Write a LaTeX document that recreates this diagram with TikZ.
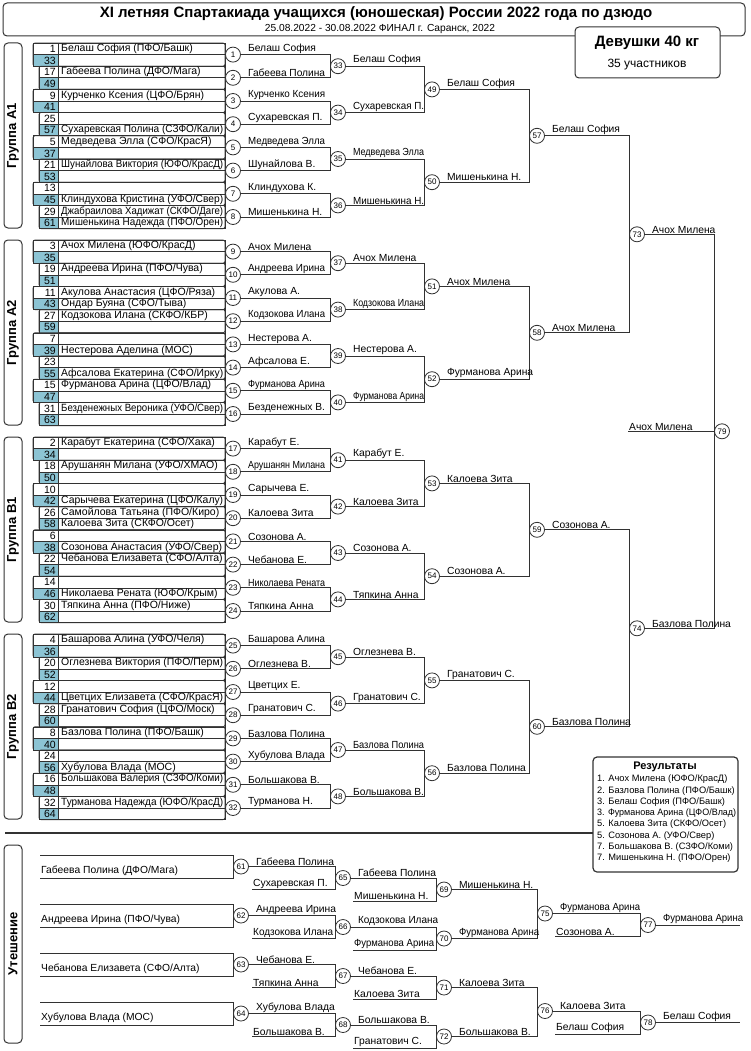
\documentclass[tikz,border=0pt]{standalone}
\usepackage{fontspec}
\setmainfont{Liberation Sans}
\usetikzlibrary{positioning}
\definecolor{seedblue}{RGB}{140,196,212}
\definecolor{ink}{RGB}{50,50,50}
% squeeze a text into a given width
\newsavebox\fitbox
\newcommand\fitw[2]{\sbox\fitbox{#2}\ifdim\wd\fitbox>#1pt\resizebox{#1pt}{\ht\fitbox}{#2}\else\usebox\fitbox\fi}
\tikzset{
  wire/.style={draw=ink,line width=0.8pt},
  bout/.style={draw=ink,circle,line width=0.8pt,fill=white,minimum size=15pt,inner sep=0pt,font=\fontsize{8}{8}\selectfont},
  num/.style={inner sep=0pt,font=\fontsize{10.5}{10}\selectfont},
  nm/.style={inner sep=0pt,font=\fontsize{10.5}{10}\selectfont},
  win/.style={anchor=south west,inner sep=1pt,font=\fontsize{10.3}{10}\selectfont},
  panel/.style={draw=ink,line width=1pt,rounded corners=4pt},
  grp/.style={font=\bfseries\fontsize{13}{13}\selectfont,rotate=90}
}
% one group of sixteen seed rows
\newcommand\drawgroup[2]{%
  \foreach \n/\s [count=\i from 0] in {#2}{
    \pgfmathsetmacro\yy{43+197*#1+\i*11.6}
    \pgfmathtruncatemacro\pp{mod(int(\i/2),2)}
    \pgfmathsetmacro\xl{\pp==0 ? 33 : 39}
    \pgfmathtruncatemacro\bl{mod(\i,2)}
    \ifnum\bl=1 \fill[seedblue] (\xl,\yy) rectangle (58,\yy+11.6); \fi
    \draw[wire,line width=0.6pt] (\xl,\yy) rectangle (58,\yy+11.6);
    \draw[wire,line width=0.6pt] (58,\yy) rectangle (225,\yy+11.6);
    \ifnum\bl=0 \draw[wire,rounded corners=2pt] (\xl,\yy) rectangle (225,\yy+23.2); \fi
    \node[num,anchor=east] (s#1-\i) at (56,\yy+6) {\n};
    \node[nm,anchor=west] (e#1-\i) at (61,\yy+6) {\fitw{162}{\s}};
  }}
\begin{document}
\begin{tikzpicture}[x=1pt,y=-1pt]
  \useasboundingbox (0,0) rectangle (750,1051);
  % Header
  \draw[panel] (3,3) rectangle (745,36);
  \node[font=\bfseries\fontsize{15}{15}\selectfont] (title) at (376,14) {XI летняя Спартакиада учащихся (юношеская) России 2022 года по дзюдо};
  \node[font=\fontsize{10.2}{10}\selectfont] (sub) at (380,29) {25.08.2022 - 30.08.2022 ФИНАЛ г. Саранск, 2022};
  \draw[panel,fill=white] (575,27) rectangle (720,78);
  \node[font=\bfseries\fontsize{15}{15}\selectfont] (cat) at (647,43) {Девушки 40 кг};
  \node[font=\fontsize{12}{12}\selectfont] (cnt) at (647,65) {35 участников};

  % Groups
  \foreach \g/\gn in {0/A1,1/A2,2/B1,3/B2}{
    \draw[panel] (4,43+197*\g) rectangle (22,228+197*\g);
    \node[grp] (g\gn) at (13,135.5+197*\g) {Группа \gn};
  }
  \drawgroup{0}{1/{Белаш София (ПФО/Башк)},33/{},17/{Габеева Полина (ДФО/Мага)},49/{},9/{Курченко Ксения (ЦФО/Брян)},41/{},25/{},57/{Сухаревская Полина (СЗФО/Кали)},5/{Медведева Элла (СФО/КрасЯ)},37/{},21/{Шунайлова Виктория (ЮФО/КрасД)},53/{},13/{},45/{Клиндухова Кристина (УФО/Свер)},29/{Джабраилова Хадижат (СКФО/Даге)},61/{Мишенькина Надежда (ПФО/Орен)}}
  \drawgroup{1}{3/{Ачох Милена (ЮФО/КрасД)},35/{},19/{Андреева Ирина (ПФО/Чува)},51/{},11/{Акулова Анастасия (ЦФО/Ряза)},43/{Ондар Буяна (СФО/Тыва)},27/{Кодзокова Илана (СКФО/КБР)},59/{},7/{},39/{Нестерова Аделина (МОС)},23/{},55/{Афсалова Екатерина (СФО/Ирку)},15/{Фурманова Арина (ЦФО/Влад)},47/{},31/{Безденежных Вероника (УФО/Свер)},63/{}}
  \drawgroup{2}{2/{Карабут Екатерина (СФО/Хака)},34/{},18/{Арушанян Милана (УФО/ХМАО)},50/{},10/{},42/{Сарычева Екатерина (ЦФО/Калу)},26/{Самойлова Татьяна (ПФО/Киро)},58/{Калоева Зита (СКФО/Осет)},6/{},38/{Созонова Анастасия (УФО/Свер)},22/{Чебанова Елизавета (СФО/Алта)},54/{},14/{},46/{Николаева Рената (ЮФО/Крым)},30/{Тяпкина Анна (ПФО/Ниже)},62/{}}
  \drawgroup{3}{4/{Башарова Алина (УФО/Челя)},36/{},20/{Оглезнева Виктория (ПФО/Перм)},52/{},12/{},44/{Цветцих Елизавета (СФО/КрасЯ)},28/{Гранатович София (ЦФО/Моск)},60/{},8/{Базлова Полина (ПФО/Башк)},40/{},24/{},56/{Хубулова Влада (МОС)},16/{Большакова Валерия (СЗФО/Коми)},48/{},32/{Турманова Надежда (ЮФО/КрасД)},64/{}}

  % Bouts
  \foreach \k in {1,...,32}{
    \pgfmathtruncatemacro\g{(\k-1)/8}
    \pgfmathsetmacro\yy{43+197*\g+(2*mod(\k-1,8)+1)*11.6}
    \node[bout] (m\k) at (233,\yy) {\k};
  }
  \foreach \k in {33,...,48}{
    \pgfmathtruncatemacro\g{(\k-33)/4}
    \pgfmathsetmacro\yy{43+197*\g+(4*mod(\k-33,4)+2)*11.6}
    \node[bout] (m\k) at (338,\yy) {\k};
  }
  \foreach \k in {49,...,56}{
    \pgfmathtruncatemacro\g{(\k-49)/2}
    \pgfmathsetmacro\yy{43+197*\g+(8*mod(\k-49,2)+4)*11.6}
    \node[bout] (m\k) at (432,\yy) {\k};
  }
  \foreach \k in {57,...,60}{
    \node[bout] (m\k) at (537,{43+197*(\k-57)+8*11.6}) {\k};
  }
  \node[bout] (m73) at (637,{43+8*11.6+98.5}) {73};
  \node[bout] (m74) at (637,{43+8*11.6+492.5}) {74};
  \node[bout] (m79) at (722,{43+8*11.6+295.5}) {79};

  % Brackets
  \foreach \k in {33,...,48}{
    \pgfmathtruncatemacro\a{2*(\k-33)+1}\pgfmathtruncatemacro\b{\a+1}
    \draw[wire] (m\a.east) -| (m\k.west) |- (m\b.east);
  }
  \foreach \k in {49,...,56}{
    \pgfmathtruncatemacro\a{2*(\k-49)+33}\pgfmathtruncatemacro\b{\a+1}
    \draw[wire] (m\a.east) -| (m\k.west) |- (m\b.east);
  }
  \foreach \k in {57,...,60}{
    \pgfmathtruncatemacro\a{2*(\k-57)+49}\pgfmathtruncatemacro\b{\a+1}
    \draw[wire] (m\a.east) -| (m\k.west) |- (m\b.east);
  }
  \draw[wire] (m57.east) -| (m73.west) |- (m58.east);
  \draw[wire] (m59.east) -| (m74.west) |- (m60.east);
  \draw[wire] (m73.east) -| (m79.west) |- (m74.east);
  \coordinate (fin) at (628,{43+8*11.6+295.5});
  \draw[wire] (fin) -- (m79.west);
  \node[win] (wfin) at (fin) {Ачох Милена};

  % Winners
  \foreach \k/\w in {1/Белаш София,2/Габеева Полина,3/Курченко Ксения,4/Сухаревская П.,5/Медведева Элла,6/Шунайлова В.,7/Клиндухова К.,8/Мишенькина Н.,
    9/Ачох Милена,10/Андреева Ирина,11/Акулова А.,12/Кодзокова Илана,13/Нестерова А.,14/Афсалова Е.,15/Фурманова Арина,16/Безденежных В.,
    17/Карабут Е.,18/Арушанян Милана,19/Сарычева Е.,20/Калоева Зита,21/Созонова А.,22/Чебанова Е.,23/Николаева Рената,24/Тяпкина Анна,
    25/Башарова Алина,26/Оглезнева В.,27/Цветцих Е.,28/Гранатович С.,29/Базлова Полина,30/Хубулова Влада,31/Большакова В.,32/Турманова Н.}{
    \node[win] (w\k) at ([xshift=6pt]m\k.east) {\fitw{77}{\w}};
  }
  \foreach \k/\w in {33/Белаш София,34/Сухаревская П.,35/Медведева Элла,36/Мишенькина Н.,37/Ачох Милена,38/Кодзокова Илана,39/Нестерова А.,40/Фурманова Арина,
    41/Карабут Е.,42/Калоева Зита,43/Созонова А.,44/Тяпкина Анна,45/Оглезнева В.,46/Гранатович С.,47/Базлова Полина,48/Большакова В.}{
    \node[win] (w\k) at ([xshift=6pt]m\k.east) {\fitw{71}{\w}};
  }
  \foreach \k/\w in {49/Белаш София,50/Мишенькина Н.,51/Ачох Милена,52/Фурманова Арина,53/Калоева Зита,54/Созонова А.,55/Гранатович С.,56/Базлова Полина,
    57/Белаш София,58/Ачох Милена,59/Созонова А.,60/Базлова Полина,73/Ачох Милена,74/Базлова Полина}{
    \node[win] (w\k) at ([xshift=6pt]m\k.east) {\fitw{86}{\w}};
  }

  % Separator and results
  \draw[wire,line width=1.2pt] (5,833) -- (593,833);
  \draw[panel,line width=1.2pt] (593,757) rectangle (738,872);
  \node[font=\bfseries\fontsize{11}{11}\selectfont] (res) at (665,767) {Результаты};
  \foreach \t [count=\i] in {1. Ачох Милена (ЮФО/КрасД),2. Базлова Полина (ПФО/Башк),3. Белаш София (ПФО/Башк),3. Фурманова Арина (ЦФО/Влад),5. Калоева Зита (СКФО/Осет),5. Созонова А. (УФО/Свер),7. Большакова В. (СЗФО/Коми),7. Мишенькина Н. (ПФО/Орен)}{
    \node[anchor=west,inner sep=0pt,font=\fontsize{9.3}{9}\selectfont] (r\i) at (597,{768+11.3*\i}) {\fitw{139}{\t}};
  }

  % Repechage
  \draw[panel] (4,845) rectangle (22,1043);
  \node[grp] (gcons) at (13,944) {Утешение};
  \foreach \j/\k/\w in {0/61/{Габеева Полина (ДФО/Мага)},1/62/{Андреева Ирина (ПФО/Чува)},2/63/{Чебанова Елизавета (СФО/Алта)},3/64/{Хубулова Влада (МОС)}}{
    \coordinate (t\k) at (40,{855+49*\j});
    \coordinate (b\k) at (40,{878+49*\j});
    \node[bout] (m\k) at (241,{866.5+49*\j}) {\k};
    \draw[wire] (t\k) -| (m\k.west) |- (b\k);
    \node[win] (n\k) at ([yshift=1pt]b\k) {\w};
  }
  \foreach \j/\k/\a in {0/65/61,1/66/62,2/67/63,3/68/64}{
    \node[bout] (m\k) at (343,{878+49*\j}) {\k};
    \coordinate (l\k) at (252,{889.5+49*\j});
    \draw[wire] (m\a.east) -| (m\k.west) |- (l\k);
  }
  \foreach \j/\k/\a in {0/69/65,1/70/66,2/71/67,3/72/68}{
    \node[bout] (m\k) at (444,{889.5+49*\j}) {\k};
    \coordinate (l\k) at (353,{901+49*\j});
    \draw[wire] (m\a.east) -| (m\k.west) |- (l\k);
  }
  \node[bout] (m75) at (545,913.5) {75};
  \node[bout] (m76) at (545,1011) {76};
  \draw[wire] (m69.east) -| (m75.west) |- (m70.east);
  \draw[wire] (m71.east) -| (m76.west) |- (m72.east);
  \node[bout] (m77) at (648,925) {77};
  \node[bout] (m78) at (648,1022.5) {78};
  \coordinate (l77) at (555,936.5);
  \coordinate (l78) at (555,1034);
  \draw[wire] (m75.east) -| (m77.west) |- (l77);
  \draw[wire] (m76.east) -| (m78.west) |- (l78);
  \coordinate (o77) at (740,925);
  \coordinate (o78) at (740,1022.5);
  \draw[wire] (m77.east) -- (o77);
  \draw[wire] (m78.east) -- (o78);
  \foreach \k/\w in {61/Габеева Полина,62/Андреева Ирина,63/Чебанова Е.,64/Хубулова Влада,65/Габеева Полина,66/Кодзокова Илана,67/Чебанова Е.,68/Большакова В.,69/Мишенькина Н.,70/Фурманова Арина,71/Калоева Зита,72/Большакова В.,75/Фурманова Арина,76/Калоева Зита,77/Фурманова Арина,78/Белаш София}{
    \node[win] (w\k) at ([xshift=6pt]m\k.east) {\fitw{80}{\w}};
  }
  \foreach \k/\w in {65/Сухаревская П.,66/Кодзокова Илана,67/Тяпкина Анна,68/Большакова В.,69/Мишенькина Н.,70/Фурманова Арина,71/Калоева Зита,72/Гранатович С.,77/Созонова А.,78/Белаш София}{
    \node[win] (v\k) at (l\k) {\fitw{80}{\w}};
  }
\end{tikzpicture}
\end{document}
